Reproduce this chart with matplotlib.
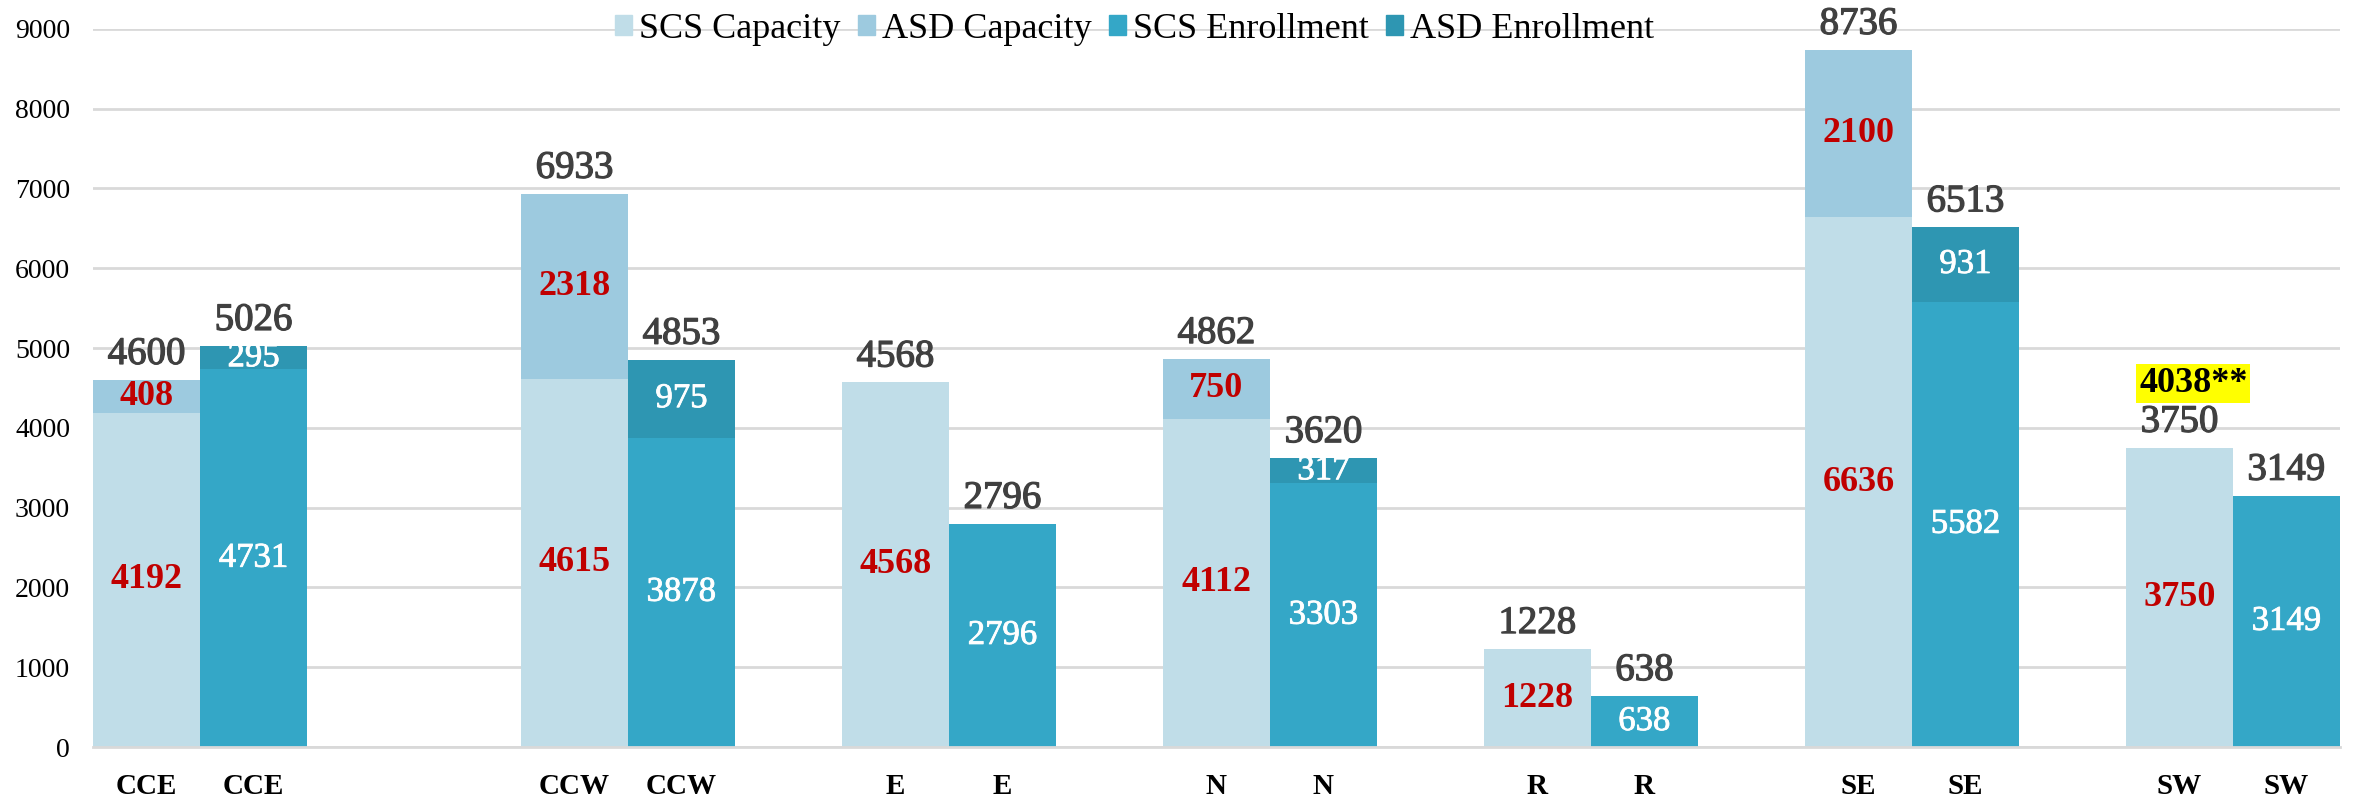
import numpy as np
import matplotlib.pyplot as plt
import matplotlib.patheffects as pe
from matplotlib.patches import Patch

plt.rcParams['font.family'] = ['Liberation Serif', 'DejaVu Serif']

regions = ['CCE', 'CCW', 'E', 'N', 'R', 'SE', 'SW']
scs_capacity = [4192, 4615, 4568, 4112, 1228, 6636, 3750]
asd_capacity = [408, 2318, 0, 750, 0, 2100, 0]
scs_enroll = [4731, 3878, 2796, 3303, 638, 5582, 3149]
asd_enroll = [295, 975, 0, 317, 0, 931, 0]
sw_note = '4038**'

# slot layout: capacity, enrollment, blank (CCE has an extra blank slot)
cap_x = [0, 4, 7, 10, 13, 16, 19]
enr_x = [x + 1 for x in cap_x]

c_scs_cap = '#C0DDE8'
c_asd_cap = '#9DCADF'
c_scs_enr = '#34A7C7'
c_asd_enr = '#2E96B2'
red = '#C00000'
gray_txt = '#404040'

# thicken the regular weight a little
thick_gray = [pe.withStroke(linewidth=0.9, foreground=gray_txt)]
thick_white = [pe.withStroke(linewidth=0.6, foreground='white')]

fig = plt.figure(figsize=(23.54, 8.01), dpi=100)
ax = fig.add_axes([0.0395, 0.0674, 0.9545, 0.8966])

ax.bar(cap_x, scs_capacity, width=1.0, color=c_scs_cap, zorder=2)
ax.bar(cap_x, asd_capacity, width=1.0, bottom=scs_capacity, color=c_asd_cap, zorder=2)
ax.bar(enr_x, scs_enroll, width=1.0, color=c_scs_enr, zorder=2)
ax.bar(enr_x, asd_enroll, width=1.0, bottom=scs_enroll, color=c_asd_enr, zorder=2)

for i in range(len(regions)):
    # capacity column
    ax.text(cap_x[i], scs_capacity[i] / 2, str(scs_capacity[i]), ha='center', va='center',
            color=red, fontsize=26, fontweight='bold', zorder=3)
    if asd_capacity[i]:
        ax.text(cap_x[i], scs_capacity[i] + asd_capacity[i] / 2, str(asd_capacity[i]),
                ha='center', va='center', color=red, fontsize=26, fontweight='bold', zorder=3)
    tot = scs_capacity[i] + asd_capacity[i]
    ax.annotate(str(tot), (cap_x[i], tot), xytext=(0, 11.5), textcoords='offset points',
                ha='center', va='baseline', color=gray_txt, fontsize=28, path_effects=thick_gray)
    # enrollment column
    ax.text(enr_x[i], scs_enroll[i] / 2, str(scs_enroll[i]), ha='center', va='center',
            color='white', fontsize=25, zorder=3, path_effects=thick_white)
    if asd_enroll[i]:
        ax.text(enr_x[i], scs_enroll[i] + asd_enroll[i] / 2, str(asd_enroll[i]),
                ha='center', va='center', color='white', fontsize=25, zorder=3,
                path_effects=thick_white)
    tot = scs_enroll[i] + asd_enroll[i]
    ax.annotate(str(tot), (enr_x[i], tot), xytext=(0, 11.5), textcoords='offset points',
                ha='center', va='baseline', color=gray_txt, fontsize=28, path_effects=thick_gray)

# highlighted note above SW capacity
ax.annotate(sw_note, (cap_x[-1], scs_capacity[-1]), xytext=(10, 40), textcoords='offset points',
            ha='center', va='baseline', color='black', fontsize=26, fontweight='bold',
            bbox=dict(boxstyle='square,pad=0.08', fc='yellow', ec='none'))

ax.set_xlim(-0.5, 20.5)
ax.set_ylim(0, 9000)
ax.set_yticks(np.arange(0, 9001, 1000))
ax.tick_params(axis='y', length=0, labelsize=20, pad=16.5)

ticks = cap_x + enr_x
ax.set_xticks(ticks)
ax.set_xticklabels(regions + regions, fontsize=21, fontweight='bold')
ax.tick_params(axis='x', length=0, pad=19)

ax.grid(axis='y', color='#D9D9D9', linewidth=2, zorder=0)
for s in ['top', 'right', 'left']:
    ax.spines[s].set_visible(False)
ax.spines['bottom'].set_color('#D9D9D9')
ax.spines['bottom'].set_linewidth(2)

handles = [Patch(color=c_scs_cap), Patch(color=c_asd_cap), Patch(color=c_scs_enr), Patch(color=c_asd_enr)]
labels = ['SCS Capacity', 'ASD Capacity', 'SCS Enrollment', 'ASD Enrollment']
fig.legend(handles, labels, loc='center', bbox_to_anchor=(0.482, 0.963), ncol=4, frameon=False,
           fontsize=26, handlelength=0.47, handleheight=0.47, handletextpad=0.2,
           columnspacing=0.47, borderpad=0.1)

fig.savefig('out.png', dpi=100)
